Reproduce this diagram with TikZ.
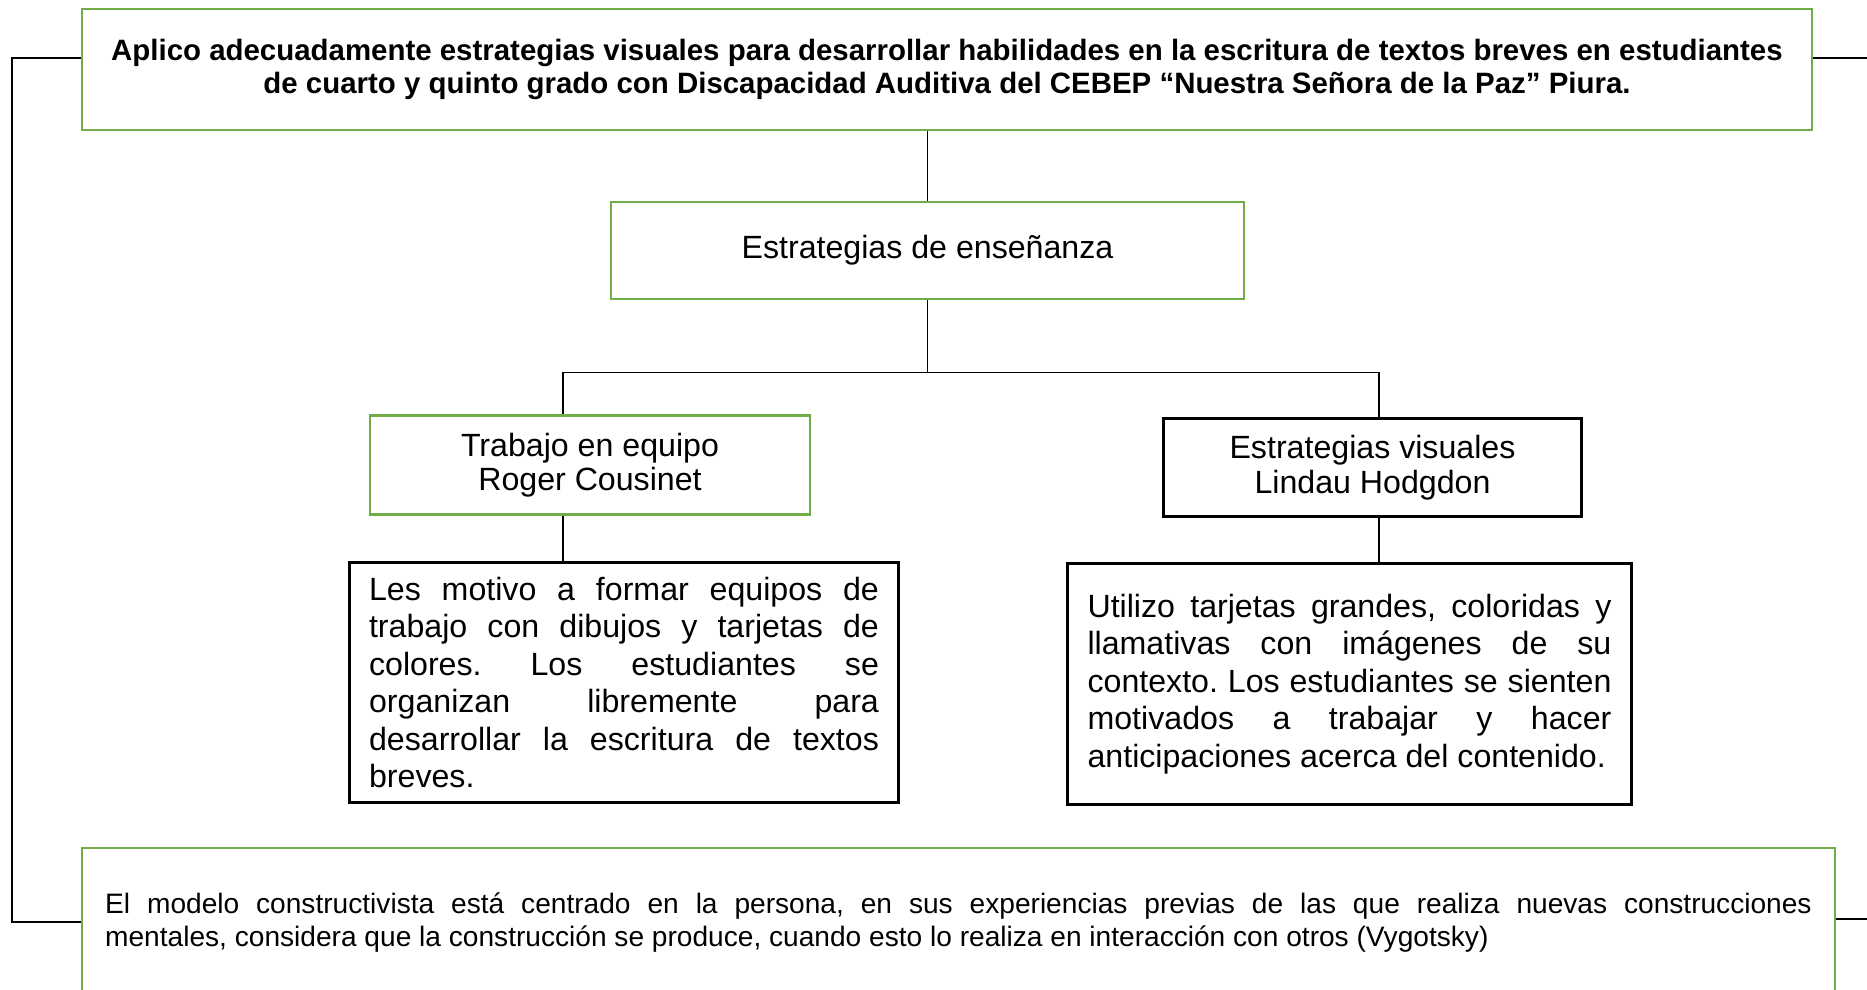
\documentclass[tikz,border=0pt]{standalone}
\usepackage{fontspec}
\setmainfont{Liberation Sans}
\definecolor{verde}{RGB}{112,173,71}
\frenchspacing
\begin{document}
\begin{tikzpicture}[x=0.02cm,y=-0.02cm,
  caja/.style={draw,line width=1.5pt,inner sep=0pt,align=center,
    font=\fontsize{18.3}{19.6}\selectfont},
  cajaverde/.style={caja,draw=verde},
  parrafo/.style={draw,line width=1.7pt,inner sep=0pt,align=justify,
    font=\fontsize{18.3}{21.3}\selectfont},
  enlace/.style={line width=0.6pt}]
\useasboundingbox (0,0) rectangle (1867,990);
\clip (0,0) rectangle (1867,990);
% cajas
\node[cajaverde,minimum width=34.6cm,minimum height=2.42cm,
  font=\bfseries\fontsize{16.75}{18.7}\selectfont] (titulo) at (947,69.5)
  {Aplico adecuadamente estrategias visuales para desarrollar habilidades en la escritura de textos breves en estudiantes\\
   de cuarto y quinto grado con Discapacidad Auditiva del CEBEP “Nuestra Señora de la Paz” Piura.};
\node[cajaverde,minimum width=12.66cm,minimum height=1.94cm] (ens) at (927.5,250.5)
  {Estrategias de enseñanza};
\node[cajaverde,minimum width=8.8cm,minimum height=1.97cm] (trab) at (590,465)
  {Trabajo en equipo\\Roger Cousinet};
\node[caja,line width=1.7pt,minimum width=8.38cm,minimum height=1.98cm] (vis) at (1372.5,467.5)
  {Estrategias visuales\\Lindau Hodgdon};
\node[parrafo,text width=10.2cm,minimum width=11cm,minimum height=4.82cm] (txtl) at (624,682.5)
  {Les motivo a formar equipos de\linebreak
   trabajo con dibujos y tarjetas de\linebreak
   colores. Los estudiantes se\linebreak
   organizan libremente para\linebreak
   desarrollar la escritura de textos\linebreak
   breves.};
\node[parrafo,text width=10.48cm,minimum width=11.3cm,minimum height=4.82cm] (txtr) at (1349.5,684)
  {Utilizo tarjetas grandes, coloridas y\linebreak
   llamativas con imágenes de su\linebreak
   contexto. Los estudiantes se sienten\linebreak
   motivados a trabajar y hacer\linebreak
   anticipaciones acerca del contenido.};
\node[parrafo,draw=verde,line width=1.5pt,text width=34.14cm,minimum width=35.06cm,minimum height=3cm,
  font=\fontsize{16}{18.8}\selectfont] (modelo) at (958.5,923)
  {El modelo constructivista está centrado en la persona, en sus experiencias previas de las que realiza nuevas construcciones\linebreak
   mentales, considera que la construcción se produce, cuando esto lo realiza en interacción con otros (Vygotsky)};
% conectores
\coordinate (jl) at (563,372.5);
\coordinate (jr) at (1379,372.5);
\draw[enlace] (ens.north) -- (ens.north |- titulo.south);
\draw[enlace] (ens.south) -- (ens.south |- jl);
\draw[enlace] (trab.north -| jl) |- (jr) -- (vis.north -| jr);
\draw[enlace] (trab.south -| jl) -- (txtl.north -| jl);
\draw[enlace] (vis.south -| jr) -- (txtr.north -| jr);
\draw[enlace] (titulo.west |- 0,58) -- (12,58) |- (modelo.west |- 0,922);
\draw[enlace] (titulo.east |- 0,58) -- (1867,58);
\draw[enlace] (modelo.east |- 0,919) -- (1867,919);
\end{tikzpicture}
\end{document}
